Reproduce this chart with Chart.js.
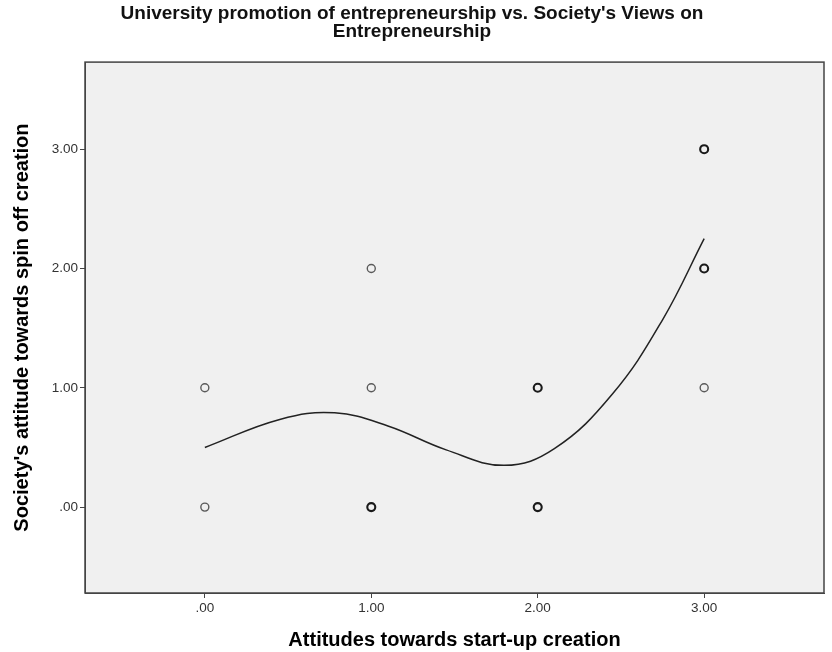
<!DOCTYPE html>
<html>
<head>
<meta charset="utf-8">
<script src="https://cdn.jsdelivr.net/npm/chart.js@4"></script>
<style>
  html, body { margin: 0; padding: 0; background: #fff; }
  #wrap { width: 832px; height: 652px; }
</style>
</head>
<body>
<div id="wrap"><canvas id="chart" width="832" height="652"></canvas></div>
<script>
// observed responses (x = start-up attitude, y = society attitude), repeats included
const respX = [0, 0, 1, 1, 1, 1, 2, 2, 2, 2, 3, 3, 3, 3, 3];
const respY = [0, 1, 0, 0, 1, 2, 0, 0, 1, 1, 1, 2, 2, 3, 3];

// smoothed fit line
const fitX = [0, 0.45, 0.78, 1.1, 1.45, 1.8, 2.1, 2.45, 2.75, 3.0];
const fitY = [0.50, 0.735, 0.79, 0.68, 0.48, 0.35, 0.49, 0.95, 1.57, 2.25];

const tickVals = [0, 1, 2, 3];
const titleLines = ["University promotion of entrepreneurship vs. Society's Views on", "Entrepreneurship"];
const xTitle = "Attitudes towards start-up creation";
const yTitle = "Society's attitude towards spin off creation";

const FONT = "Arial, 'Liberation Sans', sans-serif";

// count how many responses fall on each spot
const counts = {};
respX.forEach((x, i) => {
    const key = x + "," + respY[i];
    counts[key] = (counts[key] || 0) + 1;
});
const pts = Object.keys(counts).map(k => {
    const [x, y] = k.split(",").map(Number);
    return { x: x, y: y, n: counts[k] };
});

const fmt = v => v === 0 ? ".00" : v.toFixed(2);

// plot background + frame
const bgPlugin = {
    id: "plotBg",
    beforeDraw(chart) {
        const a = chart.chartArea, ctx = chart.ctx;
        ctx.save();
        ctx.fillStyle = "#f0f0f0";
        ctx.fillRect(a.left, a.top, a.right - a.left, a.bottom - a.top);
        ctx.strokeStyle = "#444";
        ctx.lineWidth = 1.5;
        ctx.strokeRect(a.left, a.top, a.right - a.left, a.bottom - a.top);
        ctx.restore();
    }
};

const axisCommon = {
    type: "linear",
    grid: { drawOnChartArea: false, drawTicks: true, tickLength: 5, color: "#444", tickColor: "#444" },
    border: { display: true, color: "#444", width: 1 },
    afterBuildTicks: s => { s.ticks = tickVals.map(v => ({ value: v })); },
    ticks: {
        color: "#333",
        font: { family: FONT, size: 13.5 },
        padding: 2,
        callback: v => fmt(v)
    }
};

new Chart(document.getElementById("chart"), {
    type: "scatter",
    data: {
        datasets: [{
            label: "fit",
            type: "line",
            data: fitX.map((x, i) => ({ x: x, y: fitY[i] })),
            borderColor: "#222",
            borderWidth: 1.5,
            pointRadius: 0,
            tension: 0.4,
            fill: false,
            order: 2
        }, {
            label: "responses",
            data: pts,
            pointRadius: 4,
            pointBackgroundColor: "rgba(0,0,0,0)",
            pointBorderColor: ctx => ctx.raw && ctx.raw.n > 1 ? "#1a1a1a" : "#5a5a5a",
            pointBorderWidth: ctx => ctx.raw && ctx.raw.n > 1 ? 2.1 : 1.4,
            order: 1
        }]
    },
    options: {
        responsive: false,
        animation: false,
        devicePixelRatio: 1,
        layout: { padding: { left: 0, right: 8, top: 0, bottom: 0 } },
        plugins: {
            legend: { display: false },
            tooltip: { enabled: false },
            title: {
                display: true,
                text: titleLines,
                color: "#111",
                font: { family: FONT, size: 19, weight: "bold", lineHeight: 0.95 },
                padding: { top: 5, bottom: 21 }
            }
        },
        scales: {
            x: Object.assign({}, axisCommon, {
                min: -0.72, max: 3.72,
                afterFit: s => { s.height = 59; },
                title: {
                    display: true, text: xTitle, color: "#000",
                    font: { family: FONT, size: 20, weight: "bold", lineHeight: 1.2 },
                    padding: { top: 0, bottom: 0 }
                }
            }),
            y: Object.assign({}, axisCommon, {
                min: -0.72, max: 3.73,
                afterFit: s => { s.width = 85; },
                title: {
                    display: true, text: yTitle, color: "#000",
                    font: { family: FONT, size: 20, weight: "bold", lineHeight: 1.2 },
                    padding: { top: 10, bottom: 0 }
                }
            })
        }
    },
    plugins: [bgPlugin]
});
</script>
</body>
</html>
